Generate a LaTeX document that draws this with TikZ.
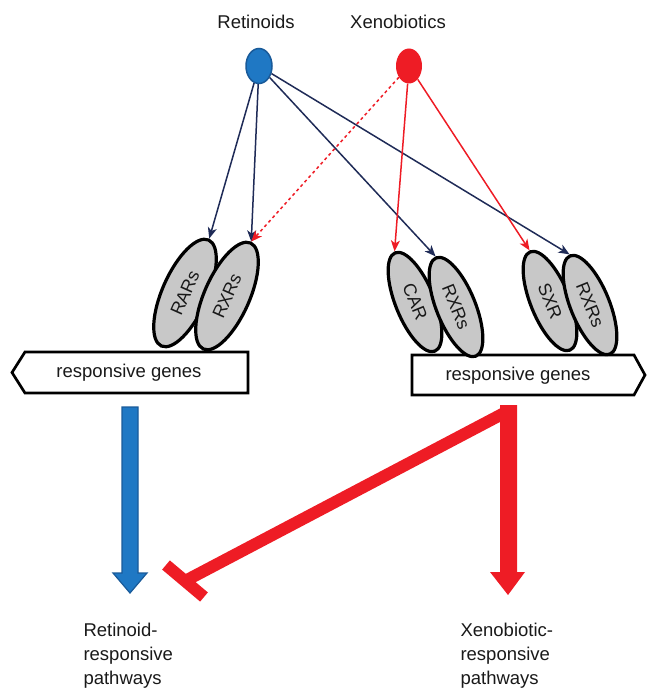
\documentclass[tikz,border=0pt]{standalone}
\usepackage{fontspec}
\setmainfont{Liberation Sans}
\usetikzlibrary{shapes.geometric, arrows.meta}

\definecolor{navyline}{HTML}{1F2B57}
\definecolor{retblue}{HTML}{1F78C4}
\definecolor{retedge}{HTML}{195A99}
\definecolor{xenred}{HTML}{EE1C25}
\definecolor{receptorgray}{HTML}{C8C8C8}

\begin{document}
\begin{tikzpicture}[x=1pt, y=-1pt,
    label/.style={font=\fontsize{18.5}{24}\selectfont, text=black!90},
    ligand/.style={ellipse, minimum width=26, minimum height=35, inner sep=0},
    receptor/.style={ellipse, draw=black, line width=3.2pt, fill=receptorgray, inner sep=0,
                     text=black!90, font=\fontsize{18}{18}\selectfont},
    bigrec/.style={receptor, minimum width=116, minimum height=45, rotate=66},
    smallrec/.style={receptor, minimum width=106, minimum height=39, rotate=-68},
    genes/.style={draw=black, line width=2.7pt, fill=white, line join=miter},
    bind/.style={line width=1.5pt, draw=navyline, -{Stealth[length=11pt,width=9pt,inset=3pt]}},
    xbind/.style={bind, draw=xenred},
    pathway/.style={line width=1.2pt, line join=miter}
]
\useasboundingbox (0,0) rectangle (647,690);

% ligands
\node[ligand, fill=retblue, draw=retedge, line width=1.5pt] (ret) at (259,66) {};
\node[ligand, fill=xenred] (xen) at (409,66) {};
\node[label] (ret_label) at (256,22) {Retinoids};
\node[label] (xen_label) at (398,22) {Xenobiotics};

% responsive genes
\draw[genes] (25,352) -- (248,352) -- (248,393) -- (25,393) -- (12,372.5) -- cycle;
\node[label] (left_genes) at (129,373) {responsive genes};
\draw[genes] (412,355) -- (634,355) -- (645,375) -- (634,395) -- (412,395) -- cycle;
\node[label] (right_genes) at (518,376) {responsive genes};

% receptors
\node[bigrec] (rar) at (185,293) {RARs};
\node[bigrec] (rxr_left) at (227,296) {RXRs};
\node[smallrec] (car) at (415,302) {CAR};
\node[smallrec] (rxr_mid) at (456,307) {RXRs};
\node[smallrec] (sxr) at (550,301) {SXR};
\node[smallrec] (rxr_right) at (590,305) {RXRs};

% binding
\draw[bind] (ret) -- (rar.east);
\draw[bind] (ret) -- (rxr_left.east);
\draw[bind] (ret) -- (rxr_mid.west);
\draw[bind] (ret) -- (rxr_right.west);
\draw[xbind, dashed] (xen) -- (rxr_left.east);
\draw[xbind] (xen) -- (car.west);
\draw[xbind] (xen) -- (sxr.west);

% pathways
\draw[pathway, draw=retedge, fill=retblue] (122,407) -- ++(16,0) -- ++(0,166) -- ++(9,0)
      -- (130,593) -- (113,573) -- ++(9,0) -- cycle;
\fill[xenred] (500,405) -- ++(17,0) -- ++(0,167) -- ++(8,0)
      -- (508,595) -- (490,572) -- ++(10,0) -- cycle;
\coordinate (block_start) at (508,411);
\coordinate (block_end) at (185,581);
\draw[xenred, line width=12pt] (block_start) -- (block_end);
\draw[xenred, line width=12pt] ([shift={(-19,-16)}]block_end) -- ([shift={(19,16)}]block_end);

\node[label, anchor=west, align=left] (ret_path) at (80,656) {Retinoid-\\responsive\\pathways};
\node[label, anchor=west, align=left] (xen_path) at (457,656) {Xenobiotic-\\responsive\\pathways};
\end{tikzpicture}
\end{document}
